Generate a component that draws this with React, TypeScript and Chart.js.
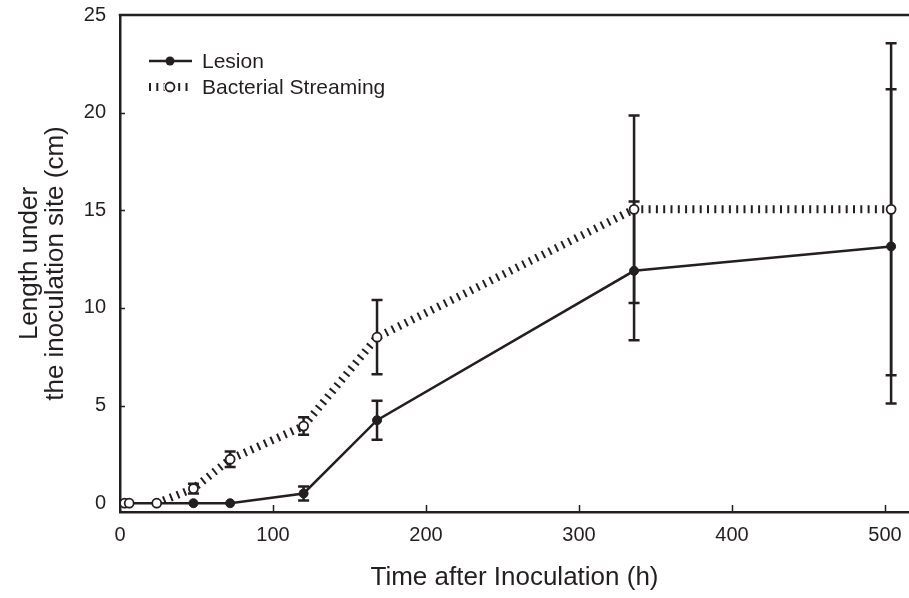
import React, { useEffect, useRef } from "react";
import { Chart, registerables } from "chart.js";

Chart.register(...registerables);

// ---- data ----
const times = [3, 6, 24, 48, 72, 120, 168, 336, 504];
const lesion = [0, 0, 0, 0, 0, 0.5, 4.25, 11.9, 13.15];
const lesionErr = [0, 0, 0, 0, 0, 0.36, 1.0, 3.55, 8.05];
const streaming = [0, 0, 0, 0.75, 2.25, 3.95, 8.5, 15.05, 15.05];
const streamingErr = [0, 0, 0, 0.25, 0.4, 0.45, 1.9, 4.8, 8.5];
const xTicks = [0, 100, 200, 300, 400, 500];
const yTicks = [0, 5, 10, 15, 20, 25];
const seriesNames = ["Lesion", "Bacterial Streaming"];
const xTitle = "Time after Inoculation (h)";
const yTitle = ["Length under", "the inoculation site (cm)"];

const INK = "#231f20";
const FONT = "'Liberation Sans', Arial, Helvetica, sans-serif";

const errorBarPlugin = {
  id: "errorBars",
  beforeDatasetsDraw(chart: any) {
    const ctx = chart.ctx;
    const xs = chart.scales.x;
    const ys = chart.scales.y;
    const sets = [
      { vals: lesion, errs: lesionErr },
      { vals: streaming, errs: streamingErr },
    ];
    ctx.save();
    ctx.strokeStyle = INK;
    ctx.lineWidth = 2.5;
    ctx.lineCap = "butt";
    for (const s of sets) {
      times.forEach((t, i) => {
        const e = s.errs[i];
        if (!e) return;
        const x = xs.getPixelForValue(t);
        const yHi = ys.getPixelForValue(s.vals[i] + e);
        const yLo = ys.getPixelForValue(s.vals[i] - e);
        ctx.beginPath();
        ctx.moveTo(x, yHi);
        ctx.lineTo(x, yLo);
        ctx.moveTo(x - 5.5, yHi);
        ctx.lineTo(x + 5.5, yHi);
        ctx.moveTo(x - 5.5, yLo);
        ctx.lineTo(x + 5.5, yLo);
        ctx.stroke();
      });
    }
    ctx.restore();
  },
  afterDraw(chart: any) {
    const ctx = chart.ctx;
    const { left, right, top, bottom } = chart.chartArea;
    const xs = chart.scales.x;
    const ys = chart.scales.y;
    ctx.save();
    ctx.strokeStyle = INK;
    ctx.lineWidth = 2.5;
    // top frame line
    ctx.beginPath();
    ctx.moveTo(left - 1.25, top);
    ctx.lineTo(right, top);
    ctx.stroke();
    // inward ticks
    ctx.lineWidth = 1.5;
    ctx.beginPath();
    xTicks.forEach((v) => {
      if (v === 0) return;
      const x = Math.round(xs.getPixelForValue(v)) + 0.5;
      ctx.moveTo(x, bottom);
      ctx.lineTo(x, bottom - 7);
    });
    yTicks.forEach((v) => {
      if (v === 0 || v === 25) return;
      const y = Math.round(ys.getPixelForValue(v)) + 0.5;
      ctx.moveTo(left, y);
      ctx.lineTo(left + 5, y);
    });
    ctx.stroke();

    // legend
    const lx0 = 149, lx1 = 192, cx = 170, tx = 202;
    const rows = [61, 87];
    ctx.font = `21px ${FONT}`;
    ctx.fillStyle = INK;
    ctx.textBaseline = "middle";
    ctx.textAlign = "left";
    // Lesion row
    ctx.lineWidth = 2.5;
    ctx.setLineDash([]);
    ctx.beginPath();
    ctx.moveTo(lx0, rows[0]);
    ctx.lineTo(lx1, rows[0]);
    ctx.stroke();
    ctx.beginPath();
    ctx.arc(cx, rows[0], 4.5, 0, Math.PI * 2);
    ctx.fill();
    ctx.fillText(seriesNames[0], tx, rows[0] + 1);
    // Streaming row
    ctx.lineWidth = 8;
    ctx.lineCap = "butt";
    ctx.setLineDash([2, 5.3]);
    ctx.beginPath();
    ctx.moveTo(lx0, rows[1]);
    ctx.lineTo(lx1, rows[1]);
    ctx.stroke();
    ctx.setLineDash([]);
    ctx.fillStyle = "#ffffff";
    ctx.beginPath();
    ctx.arc(cx, rows[1], 6.5, 0, Math.PI * 2);
    ctx.fill();
    ctx.lineWidth = 1.8;
    ctx.beginPath();
    ctx.arc(cx, rows[1], 4.5, 0, Math.PI * 2);
    ctx.fill();
    ctx.stroke();
    ctx.fillStyle = INK;
    ctx.fillText(seriesNames[1], tx, rows[1] + 1);
    ctx.restore();
  },
};

export default function App() {
  const ref = useRef<HTMLCanvasElement>(null);
  useEffect(() => {
    if (!ref.current) return;
    const chart = new Chart(ref.current, {
      type: "line",
      data: {
        datasets: [
          {
            label: seriesNames[0],
            data: times.map((t, i) => ({ x: t, y: lesion[i] })),
            borderColor: INK,
            borderWidth: 2.5,
            pointBackgroundColor: INK,
            pointBorderColor: INK,
            pointBorderWidth: 1,
            pointRadius: 4.5,
            tension: 0,
            order: 1,
          },
          {
            label: seriesNames[1],
            data: times.map((t, i) => ({ x: t, y: streaming[i] })),
            borderColor: INK,
            borderWidth: 8,
            borderDash: [2, 5.3],
            borderCapStyle: "butt",
            pointBackgroundColor: "#ffffff",
            pointBorderColor: INK,
            pointBorderWidth: 1.8,
            pointRadius: 4.5,
            tension: 0,
            order: 0,
            segment: {
              borderColor: (c: any) =>
                c.p0.parsed.y === 0 && c.p1.parsed.y === 0 ? "rgba(0,0,0,0)" : INK,
            },
          } as any,
        ],
      },
      options: {
        animation: false,
        responsive: false,
        devicePixelRatio: 1,
        layout: { autoPadding: false, padding: { top: 15, right: 0, left: 0, bottom: 0 } },
        plugins: { legend: { display: false }, tooltip: { enabled: false } },
        scales: {
          x: {
            type: "linear",
            min: 0,
            max: 515.7,
            afterBuildTicks: (s: any) => {
              s.ticks = xTicks.map((v) => ({ value: v }));
            },
            afterFit: (s: any) => {
              s.height = 86;
              s.paddingLeft = 0;
              s.paddingRight = 0;
            },
            grid: { display: false, drawTicks: false },
            border: { display: true, color: INK, width: 2.5 },
            ticks: {
              color: INK,
              font: { family: FONT, size: 20 },
              padding: 11,
              autoSkip: false,
              maxRotation: 0,
            },
            title: {
              display: true,
              text: xTitle,
              color: INK,
              font: { family: FONT, size: 26, lineHeight: 1.0 },
              padding: { top: 0, bottom: 7 },
            },
          },
          y: {
            type: "linear",
            min: -0.45,
            max: 25,
            afterBuildTicks: (s: any) => {
              s.ticks = yTicks.map((v) => ({ value: v }));
            },
            afterFit: (s: any) => {
              s.width = 120;
              s.paddingTop = 0;
              s.paddingBottom = 0;
            },
            grid: { display: false, drawTicks: false },
            border: { display: true, color: INK, width: 2.5 },
            ticks: {
              color: INK,
              font: { family: FONT, size: 20 },
              padding: 14,
              autoSkip: false,
            },
            title: {
              display: true,
              text: yTitle,
              color: INK,
              font: { family: FONT, size: 26, lineHeight: 1.0 },
              padding: { top: 17, bottom: 0 },
            },
          },
        },
      },
      plugins: [errorBarPlugin],
    });
    return () => chart.destroy();
  }, []);
  return (
    <div style={{ position: "fixed", left: 0, top: 0, width: 909, height: 598, background: "#fff" }}>
      <canvas ref={ref} width={909} height={598} />
    </div>
  );
}
